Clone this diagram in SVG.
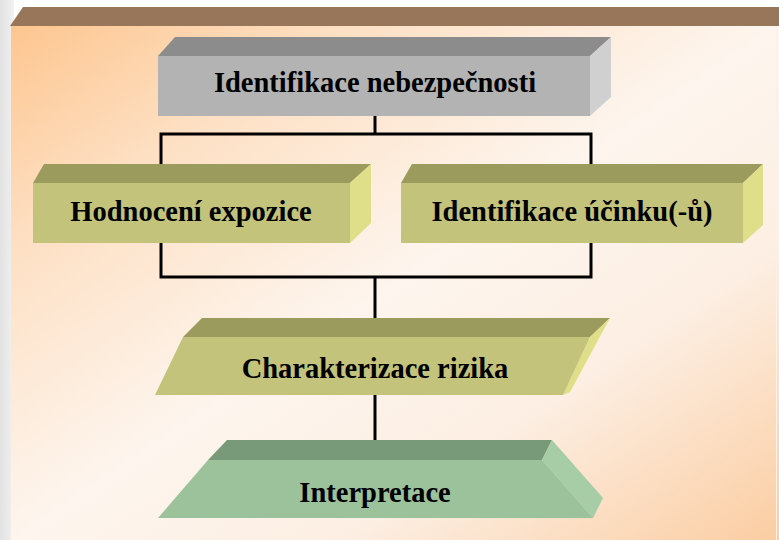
<svg xmlns="http://www.w3.org/2000/svg" width="779" height="540" viewBox="0 0 779 540">
<defs>
<linearGradient id="bg" x1="0" y1="0" x2="1" y2="1">
<stop offset="0" stop-color="#fdc690"/>
<stop offset="0.22" stop-color="#fde0c4"/>
<stop offset="0.5" stop-color="#fdf5ee"/>
<stop offset="0.72" stop-color="#fceee2"/>
<stop offset="1" stop-color="#fbcda2"/>
</linearGradient>
<linearGradient id="side" x1="0" y1="0" x2="1" y2="0">
<stop offset="0" stop-color="#e2e2e2"/>
<stop offset="0.7" stop-color="#ececec"/>
<stop offset="1" stop-color="#f4f4f4"/>
</linearGradient>
<style>
.txt{font-family:"Liberation Serif","Times New Roman",serif;font-weight:bold;font-size:28.5px;fill:#000;text-anchor:middle}
.conn{stroke:#000;stroke-width:3;fill:none}
.gTop{fill:#8c8c8c}.gFront{fill:#b3b3b3}.gSide{fill:#d0d0d0}
.oTop{fill:#9b9b5e}.oFront{fill:#c3c37b}.oSide{fill:#dfdf89}
.vTop{fill:#789a78}.vFront{fill:#9cc29c}.vSide{fill:#a6cda6}
</style>
</defs>
<rect x="0" y="0" width="779" height="540" fill="#ffffff"/>
<rect x="0" y="0" width="14" height="540" fill="url(#side)"/>
<rect x="11" y="26" width="768" height="514" fill="url(#bg)"/>
<polygon points="10,26 23,7 779,7 779,26" fill="#97765a"/>
<line x1="776.5" y1="26" x2="776.5" y2="540" stroke="#fdf0e4" stroke-width="1"/>

<g id="connectors">
<polyline class="conn" points="375,116 375,134"/>
<polyline class="conn" points="161,165 161,134 591,134 591,165"/>
<polyline class="conn" points="161,243 161,277 591,277 591,243"/>
<polyline class="conn" points="375,277 375,319"/>
<polyline class="conn" points="375,395 375,441"/>
</g>

<g id="node-identifikace-nebezpecnosti">
<polygon class="gTop" points="158,56 175,37 611,37 590,56"/>
<polygon class="gSide" points="590,56 611,37 611,97 590,116"/>
<rect class="gFront" x="158" y="56" width="432" height="60"/>
<text class="txt" x="375" y="92">Identifikace nebezpečnosti</text>
</g>

<g id="node-hodnoceni-expozice">
<polygon class="oTop" points="33,183 44,164 371,164 350,183"/>
<polygon class="oSide" points="350,183 371,164 371,223 350,243"/>
<rect class="oFront" x="33" y="183" width="317" height="60"/>
<text class="txt" x="191" y="221">Hodnocení expozice</text>
</g>

<g id="node-identifikace-ucinku">
<polygon class="oTop" points="401,183 412,164 763,164 743,183"/>
<polygon class="oSide" points="743,183 763,164 763,225 743,243"/>
<rect class="oFront" x="401" y="183" width="342" height="60"/>
<text class="txt" x="572" y="221">Identifikace účinku(-ů)</text>
</g>

<g id="node-charakterizace-rizika">
<polygon class="oTop" points="183,337 202,318 610,318 590,337"/>
<polygon class="oSide" points="590,337 610,318 570,392 563,395"/>
<polygon class="oFront" points="183,337 590,337 563,395 155,395"/>
<text class="txt" x="375" y="378">Charakterizace rizika</text>
</g>

<g id="node-interpretace">
<polygon class="vTop" points="208,460 227,440 552,440 542,460"/>
<polygon class="vSide" points="542,460 552,440 603,498 593,518"/>
<polygon class="vFront" points="208,460 542,460 593,518 158,518"/>
<text class="txt" x="375" y="502">Interpretace</text>
</g>
</svg>
